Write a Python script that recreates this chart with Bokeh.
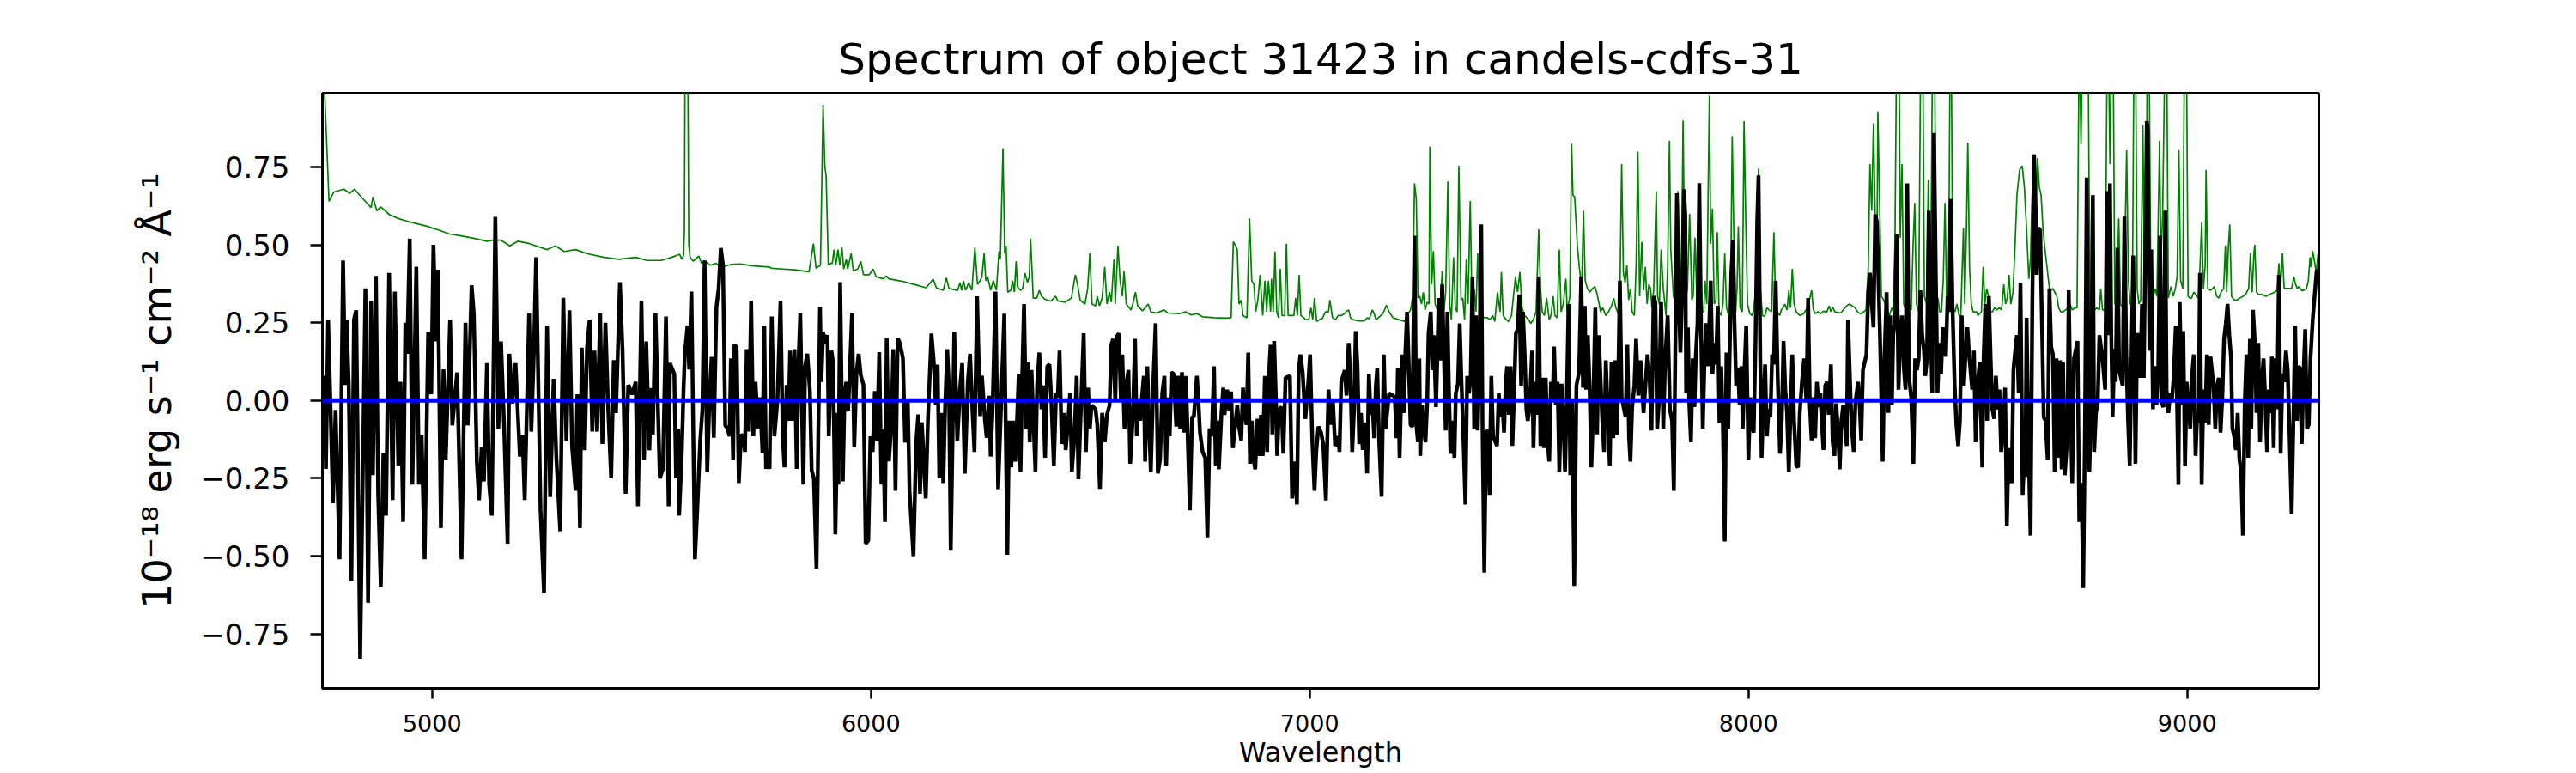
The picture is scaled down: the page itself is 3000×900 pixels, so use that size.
from bokeh.plotting import figure
from bokeh.models import Range1d, FixedTicker, Span
from bokeh.embed import file_html
from bokeh.resources import INLINE

TITLE = "Spectrum of object 31423 in candels-cdfs-31"
X_LABEL = "Wavelength"
Y_LABEL = "10⁻¹⁸ erg s⁻¹ cm⁻² Å⁻¹"
X_TICKS = [5000, 6000, 7000, 8000, 9000]
Y_TICKS = [-0.75, -0.5, -0.25, 0.0, 0.25, 0.5, 0.75]
Y_TICK_LABELS = ["−0.75", "−0.50", "−0.25", "0.00", "0.25", "0.50", "0.75"]
X_LIMITS = (4750, 9300)
Y_LIMITS = (-0.925, 0.9875)
ZERO_LEVEL = 0.0

# object spectrum (wavelength, flux)
OBJ_1 = [(4754,0.08),(4758,-0.22),(4763,0.26),(4769,-0.05),(4774,-0.33),(4780,-0.03),(4789,-0.51),(4797,0.45),(4802,0.05),(4805,0.26),(4810,0.05),(4816,-0.58),(4822,0.26),(4827,0.29),(4836,-0.83),(4848,0.36),(4854,-0.65),(4861,0.32),(4865,-0.24),(4872,0.40),(4877,-0.30),(4883,-0.60),(4889,-0.17),(4895,-0.37),(4902,0.41),(4910,-0.32),(4915,0.35),(4923,-0.21),(4928,0.06),(4934,-0.39),(4939,0.25),(4943,0.15),(4949,0.52),(4955,-0.27),(4964,0.43),(4970,-0.27),(4976,-0.11),(4983,-0.51),(4991,0.22),(4998,0.02),(5003,0.50),(5009,0.19),(5013,0.42),(5020,-0.41),(5026,0.10),(5031,-0.19),(5041,0.26),(5046,-0.08),(5057,0.09),(5067,-0.51),(5076,0.25),(5081,-0.08),(5090,0.37),(5095,0.28),(5102,-0.20),(5107,-0.32),(5113,-0.15),(5118,-0.26),(5125,0.12),(5130,-0.27),(5136,-0.37),(5144,0.59),(5151,-0.09),(5157,0.19),(5164,-0.08),(5172,-0.46),(5176,0.15),(5183,-0.01),(5190,0.12),(5200,-0.18),(5206,-0.11),(5211,-0.32),(5221,0.28),(5226,-0.10),(5232,0.16),(5237,0.46),(5247,-0.35),(5255,-0.62),(5262,0.24),(5269,-0.31),(5277,0.07),(5283,-0.18),(5292,-0.42),(5299,0.33),(5306,-0.13),(5313,0.29),(5319,-0.15),(5327,-0.29),(5331,0.02),(5337,-0.41),(5341,0.17),(5348,-0.16),(5353,0.17),(5359,0.26),(5365,-0.10),(5370,0.16),(5376,-0.10),(5383,0.28),(5388,-0.14),(5395,0.25),(5401,-0.02),(5408,-0.25),(5414,0.13),(5419,-0.04),(5428,0.38),(5434,0.16),(5441,-0.30),(5447,0.05),(5456,0.02),(5464,0.06),(5469,-0.34),(5477,0.32),(5483,-0.19),(5488,0.19),(5495,-0.16),(5500,0.04),(5503,-0.11),(5509,0.28),(5519,-0.25)]
OBJ_2 = [(5526,-0.22),(5533,0.27),(5539,-0.34),(5542,0.12),(5552,0.085),(5556,-0.25),(5561,-0.09),(5563,-0.37),(5569,-0.17),(5573,0.035),(5576,0.15),(5582,0.24),(5586,0.10),(5591,0.35),(5599,-0.51),(5604,-0.36),(5611,-0.13),(5616,-0.03),(5621,0.45),(5627,-0.23),(5632,0.0),(5637,0.14),(5642,-0.12),(5648,0.30),(5653,0.36),(5658,0.49),(5663,0.435),(5668,-0.08),(5673,-0.09),(5678,-0.115),(5681,0.135),(5686,-0.19),(5689,0.18),(5694,0.17),(5699,-0.265),(5704,-0.11),(5709,-0.115),(5713,-0.165),(5717,0.165),(5722,-0.10),(5727,0.32),(5732,-0.115),(5737,0.06),(5743,-0.09),(5747,0.01),(5753,-0.17),(5757,0.24),(5761,-0.22),(5766,-0.16),(5769,-0.22),(5774,0.27),(5780,-0.115),(5787,0.0),(5794,0.32),(5799,-0.115),(5803,-0.215),(5808,0.05),(5812,-0.065),(5816,0.16),(5821,-0.065),(5826,0.165),(5831,-0.22),(5835,0.12),(5839,0.28),(5846,-0.27),(5850,0.11),(5855,0.15),(5861,0.03),(5865,-0.225),(5870,-0.25),(5876,-0.54),(5884,0.30),(5887,0.06),(5891,0.22),(5896,0.185),(5901,0.21),(5904,-0.115),(5910,0.16),(5914,0.12),(5919,-0.43),(5924,-0.04),(5926,-0.27),(5930,0.38),(5936,-0.26),(5940,0.02),(5944,0.06),(5948,-0.035),(5951,0.06),(5957,0.28),(5962,-0.15),(5967,0.085),(5972,0.15),(5977,0.08),(5983,0.05),(5988,-0.46),(5994,-0.45),(5999,-0.115),(6004,-0.165),(6009,0.03),(6014,-0.13),(6019,0.155),(6024,-0.27),(6028,-0.09),(6032,-0.39),(6036,0.20),(6041,-0.195),(6047,-0.07),(6051,0.165),(6056,-0.29),(6061,0.20),(6066,0.185),(6073,0.135),(6078,-0.135),(6084,0.005),(6088,-0.29),(6097,-0.50),(6103,-0.14),(6108,-0.045),(6112,-0.30),(6116,-0.07),(6125,-0.315),(6130,-0.06),(6138,0.215),(6143,0.13),(6148,-0.015),(6152,0.115),(6156,-0.25),(6161,-0.04),(6165,-0.265),(6169,-0.03),(6174,0.165),(6178,0.04),(6182,-0.48),(6190,0.22),(6197,-0.13),(6203,0.035),(6208,0.12),(6214,-0.235),(6221,0.06),(6226,0.15),(6230,0.01),(6236,-0.165),(6242,0.335),(6249,-0.05),(6253,0.08),(6260,-0.065),(6264,-0.12),(6270,0.015),(6273,-0.18),(6277,-0.04),(6284,0.35),(6290,-0.285)]
OBJ_3 = [(6304,0.279),(6311,-0.496),(6315,-0.065),(6320,-0.215),(6324,-0.065),(6329,-0.196),(6333,-0.065),(6337,0.085),(6341,-0.228),(6345,0.085),(6349,0.31),(6354,-0.09),(6358,0.123),(6362,-0.134),(6366,0.098),(6375,-0.228),(6379,0.054),(6384,0.154),(6389,-0.028),(6392,0.048),(6397,-0.184),(6402,0.11),(6407,0.116),(6411,0.01),(6417,-0.209),(6422,0.023),(6426,0.01),(6430,0.16),(6435,-0.14),(6440,-0.04),(6444,-0.159),(6449,-0.078),(6454,0.023),(6458,-0.228),(6464,-0.115),(6469,0.079),(6473,-0.253),(6477,-0.09),(6480,0.023),(6485,0.216),(6490,-0.165),(6495,0.041),(6499,-0.09),(6503,-0.015),(6512,-0.028),(6516,-0.078),(6522,-0.284),(6527,-0.04),(6533,-0.134),(6538,-0.046),(6544,-0.015),(6548,0.179),(6552,0.198),(6557,-0.003),(6560,0.204),(6565,0.216),(6570,-0.003),(6573,0.148),(6578,-0.09),(6583,0.06),(6587,0.098),(6591,-0.203),(6597,-0.053),(6602,0.198),(6606,-0.115),(6610,-0.003),(6614,-0.065),(6617,-0.003),(6622,0.079),(6625,-0.196),(6630,0.11),(6634,-0.078),(6638,-0.228),(6644,0.073),(6649,0.248),(6654,-0.234),(6659,-0.19),(6664,0.023),(6669,0.079),(6673,-0.209),(6677,0.01),(6681,-0.115),(6685,0.091),(6690,0.085),(6696,-0.084),(6700,0.079),(6705,-0.09),(6709,0.091),(6713,-0.103),(6718,0.079),(6727,-0.353),(6732,-0.053),(6736,-0.053),(6743,0.079),(6747,-0.015),(6750,-0.103),(6756,-0.165),(6762,-0.184),(6767,-0.44),(6772,-0.09),(6777,-0.115),(6782,0.11),(6786,-0.209),(6790,-0.065),(6793,-0.221),(6799,-0.04),(6803,0.041),(6806,-0.046),(6812,0.035),(6817,-0.034),(6821,0.029),(6825,-0.153),(6835,-0.015),(6839,-0.084),(6844,-0.128),(6848,0.041),(6852,-0.04),(6856,-0.078),(6860,0.154),(6864,-0.203),(6868,-0.065),(6872,-0.19),(6876,-0.221),(6881,-0.059),(6885,-0.178),(6889,-0.046),(6893,-0.178),(6898,0.079),(6903,-0.165),(6907,0.079),(6911,0.179),(6915,-0.109),(6919,0.191),(6923,0.01),(6926,-0.178),(6930,-0.028),(6936,-0.021),(6940,-0.171),(6945,0.073),(6955,0.079),(6960,-0.315),(6966,-0.196),(6971,-0.334),(6975,0.098),(6979,0.148),(6984,0.091),(6990,-0.059),(6997,0.06),(7001,0.148),(7006,-0.128),(7011,-0.29),(7015,-0.165),(7020,-0.084),(7026,-0.103),(7031,-0.14),(7037,-0.321),(7043,0.035),(7048,-0.078),(7053,-0.003),(7058,-0.146),(7065,-0.115)]
OBJ_4 = [(7068,-0.165),(7072,0.06),(7080,0.098),(7084,0.016),(7089,0.185),(7093,0.066),(7097,-0.165),(7101,-0.034),(7105,0.223),(7109,0.11),(7113,-0.14),(7117,-0.04),(7121,-0.159),(7124,-0.071),(7128,-0.121),(7131,-0.234),(7135,0.085),(7139,-0.046),(7143,-0.003),(7147,-0.121),(7151,0.048),(7154,0.104),(7158,-0.115),(7164,-0.309),(7169,0.148),(7173,-0.09),(7181,0.023),(7190,0.016),(7194,0.01),(7198,-0.121),(7201,0.104),(7205,-0.184),(7211,0.148),(7215,-0.04),(7218,0.148),(7222,0.285),(7226,0.11),(7230,-0.078),(7234,-0.084),(7239,0.529),(7243,-0.078),(7247,-0.134),(7250,0.135),(7252,-0.178),(7256,-0.015),(7260,-0.09),(7264,-0.134),(7268,-0.003),(7271,0.216),(7276,0.285),(7280,0.098),(7283,0.21),(7288,-0.021),(7291,0.135),(7294,0.329),(7298,0.129),(7302,0.373),(7306,0.148),(7310,-0.096),(7314,0.285),(7317,0.06),(7321,-0.171),(7325,-0.065),(7330,-0.184),(7333,0.023),(7338,0.054),(7342,0.248),(7346,0.06),(7350,-0.103),(7355,-0.334),(7359,0.079),(7363,0.023),(7367,0.073),(7371,0.398),(7375,-0.09),(7379,0.273),(7383,-0.096),(7387,0.135),(7391,0.566),(7394,-0.09),(7398,-0.553),(7402,-0.103),(7406,-0.096),(7410,-0.303),(7414,0.079),(7418,-0.115),(7427,-0.146),(7431,0.023),(7435,-0.053),(7439,-0.003),(7443,-0.103),(7447,0.06),(7450,0.11),(7454,-0.046),(7458,0.11),(7462,-0.146),(7466,0.029),(7470,0.216),(7474,0.229),(7478,0.341),(7482,0.048),(7486,0.285),(7490,0.148),(7494,-0.028),(7497,-0.065),(7501,-0.028),(7507,0.16),(7510,-0.153),(7514,0.06),(7518,-0.046),(7522,0.398),(7526,-0.146),(7530,0.073),(7534,-0.153),(7538,0.073),(7542,-0.128),(7546,-0.196),(7550,0.06),(7554,0.004),(7557,0.173),(7561,-0.015),(7565,0.06),(7569,-0.228),(7574,0.054),(7578,-0.053),(7582,-0.228),(7586,-0.003),(7590,0.31),(7594,-0.24),(7598,-0.003),(7603,-0.596),(7608,0.048),(7614,0.091),(7619,0.398),(7623,0.041),(7627,0.304),(7630,0.035),(7634,0.21),(7638,0.041),(7642,-0.215),(7646,-0.04),(7651,0.298),(7655,-0.109),(7659,0.21),(7663,0.066),(7667,-0.065),(7671,-0.165),(7675,0.129),(7684,-0.209),(7688,0.123),(7692,-0.121),(7696,0.129),(7700,-0.109),(7703,0.035),(7707,0.385),(7711,0.01),(7720,-0.053),(7724,0.179),(7728,-0.121),(7731,-0.196),(7735,-0.021),(7740,0.048),(7744,0.198),(7749,0.016),(7754,0.129),(7761,-0.04),(7770,0.148),(7775,0.066),(7779,-0.096),(7784,0.335),(7788,0.316),(7792,-0.09),(7796,-0.003),(7801,0.316),(7806,-0.09),(7810,0.123),(7816,0.273),(7821,-0.028),(7826,-0.065),(7830,-0.29)]
OBJ_5 = [(7837,0.666),(7841,0.335),(7845,0.154),(7849,0.348),(7853,0.679),(7856,0.598),(7858,0.023),(7862,0.235),(7865,-0.003),(7869,-0.134),(7873,0.135),(7877,-0.021),(7880,0.141),(7884,0.248),(7888,0.698),(7892,0.235),(7896,-0.09),(7900,0.135),(7904,0.248),(7908,0.11),(7910,0.21),(7914,0.385),(7918,0.085),(7922,0.185),(7926,0.116),(7930,0.304),(7934,-0.071),(7938,0.11),(7942,-0.09),(7946,-0.453),(7950,0.154),(7954,-0.09),(7957,0.135),(7961,0.41),(7965,0.516),(7968,0.26),(7972,0.048),(7976,0.104),(7980,-0.015),(7984,0.11),(7987,-0.09),(7991,0.098),(7995,0.241),(8000,-0.19),(8004,0.01),(8008,-0.084),(8012,-0.103),(8016,0.179),(8020,0.573),(8023,0.723),(8027,0.135),(8030,-0.184),(8034,-0.015),(8038,0.116),(8042,-0.115),(8046,-0.028),(8050,-0.053),(8054,0.148),(8058,0.116),(8062,0.385),(8067,0.06),(8072,-0.171),(8076,-0.059),(8080,0.191),(8084,0.035),(8088,-0.04),(8092,-0.228),(8096,-0.04),(8100,0.148),(8104,-0.065),(8109,-0.209),(8113,-0.215),(8117,-0.04),(8122,0.06),(8127,0.135),(8132,-0.003),(8136,0.329),(8140,-0.015),(8144,-0.128),(8148,0.01),(8152,-0.121),(8156,0.06),(8160,-0.021),(8164,0.023),(8167,-0.065),(8171,-0.159),(8175,0.048),(8179,0.06),(8183,-0.046),(8188,0.116),(8192,-0.134),(8196,-0.178),(8200,-0.009),(8204,-0.09),(8208,-0.221),(8212,-0.065),(8216,-0.015),(8220,-0.078),(8224,-0.146),(8227,0.26),(8233,-0.003),(8237,-0.115),(8240,-0.165),(8244,-0.003),(8250,0.06),(8254,-0.028),(8257,-0.128),(8261,0.098),(8269,0.148),(8273,0.348),(8277,0.41),(8281,0.316),(8285,0.235),(8289,0.598),(8293,0.573),(8297,0.354),(8300,0.198),(8306,-0.196),(8310,0.135),(8315,0.348),(8319,-0.04),(8323,0.273),(8327,-0.015),(8330,0.21),(8334,0.26),(8338,0.535),(8342,0.035),(8346,0.21),(8350,0.273),(8354,0.11),(8358,0.035),(8362,0.698),(8366,0.073),(8371,0.01),(8376,-0.203),(8380,0.135),(8384,0.098),(8388,0.135),(8392,0.354),(8396,0.21),(8400,0.16),(8403,0.079),(8407,0.135),(8411,0.61),(8415,0.26),(8419,0.023),(8423,0.86),(8427,0.41),(8431,0.023),(8435,0.185),(8439,0.085),(8443,0.235),(8450,0.141),(8454,0.335),(8458,0.285),(8461,0.648),(8465,0.31),(8470,0.048),(8474,-0.078),(8478,-0.146),(8482,-0.065),(8486,0.273),(8491,0.048),(8495,0.148),(8499,0.235),(8503,0.148),(8510,0.035),(8514,0.16),(8518,-0.134),(8523,0.06),(8527,0.123),(8533,-0.215),(8536,0.135),(8540,0.31),(8544,-0.065),(8548,0.335),(8552,0.135),(8556,-0.028),(8560,-0.059),(8564,0.079),(8568,-0.028),(8572,0.035),(8576,-0.165),(8581,-0.09),(8585,0.041),(8589,-0.403),(8593,-0.153),(8596,-0.228),(8600,-0.265),(8604,0.098),(8608,0.16),(8612,0.21)]
OBJ_6 = [(8616,0.023),(8620,0.379),(8625,-0.303),(8629,-0.159),(8631,-0.246),(8634,0.266),(8638,-0.115),(8643,-0.434),(8647,0.31),(8651,0.791),(8655,0.598),(8657,0.404),(8661,0.554),(8665,0.548),(8669,0.248),(8673,-0.053),(8677,-0.065),(8682,-0.19),(8686,0.36),(8690,0.173),(8694,0.148),(8698,-0.228),(8702,0.135),(8706,-0.184),(8710,0.129),(8714,-0.221),(8717,0.123),(8721,-0.24),(8727,-0.115),(8730,0.354),(8734,-0.009),(8738,-0.265),(8742,0.135),(8750,0.191),(8754,-0.39),(8759,-0.265),(8763,-0.603),(8767,-0.09),(8771,0.716),(8775,0.11),(8777,-0.228),(8781,-0.009),(8785,0.66),(8788,-0.165),(8792,-0.04),(8796,-0.009),(8800,0.21),(8807,0.135),(8813,0.035),(8817,0.673),(8820,0.21),(8824,0.698),(8827,0.21),(8830,-0.053),(8834,0.166),(8837,0.06),(8841,0.491),(8845,0.098),(8853,0.048),(8857,0.591),(8861,0.16),(8865,-0.053),(8869,-0.209),(8873,0.135),(8877,0.466),(8882,-0.203),(8886,0.216),(8890,0.198),(8893,0.073),(8897,0.31),(8901,0.073),(8905,0.535),(8908,0.898),(8910,0.873),(8914,0.16),(8918,0.485),(8922,-0.028),(8926,0.11),(8930,-0.015),(8934,0.098),(8938,0.529),(8942,-0.009),(8946,-0.021),(8950,0.61),(8953,0.035),(8957,-0.04),(8961,0.023),(8965,-0.003),(8969,0.073),(8974,0.241),(8980,-0.271),(8983,0.316),(8987,-0.015),(8991,0.223),(8995,-0.209),(8999,0.06),(9007,-0.09),(9011,0.079),(9015,0.148),(9019,-0.178),(9023,-0.04),(9026,-0.071),(9029,0.41),(9033,-0.271),(9037,0.035),(9041,-0.071),(9045,0.148),(9049,-0.078),(9053,0.141),(9060,0.048),(9064,-0.09),(9068,0.048),(9072,0.073),(9076,-0.103),(9080,0.01),(9084,0.198),(9088,0.248),(9092,0.31),(9096,0.21),(9100,0.135),(9103,-0.09),(9107,-0.115),(9111,-0.159),(9115,-0.04),(9119,-0.19),(9123,-0.228),(9127,-0.434),(9131,-0.015),(9135,0.148),(9139,-0.184),(9143,0.198),(9146,-0.09),(9150,0.291),(9154,0.191),(9158,-0.04),(9162,0.185),(9166,-0.134),(9170,0.06),(9174,0.135),(9178,-0.003),(9182,-0.165),(9186,0.035),(9190,-0.04),(9193,0.141),(9197,-0.153),(9201,0.135),(9205,-0.028),(9209,0.404),(9213,-0.171),(9217,0.085),(9221,0.06),(9225,0.16),(9229,0.098),(9233,-0.096),(9238,-0.365),(9242,-0.065),(9246,0.241),(9250,-0.065),(9253,0.11),(9257,0.104),(9261,-0.14),(9265,0.085),(9269,0.229),(9273,-0.09),(9277,-0.078),(9281,0.135),(9286,0.26),(9291,0.348),(9295,0.416),(9298,0.42)]

# sky / noise spectrum (wavelength, flux)
SKY_1 = [(4752,1.10),(4765,0.64),(4776,0.67),(4799,0.679),(4812,0.666),(4823,0.679),(4838,0.655),(4851,0.635),(4861,0.62),(4865,0.654),(4874,0.61),(4883,0.622),(4903,0.597),(4923,0.585),(4936,0.579),(4955,0.572),(4988,0.56),(5014,0.548),(5040,0.535),(5066,0.529),(5092,0.522),(5125,0.512),(5138,0.515),(5157,0.515),(5177,0.497),(5196,0.512),(5222,0.504),(5262,0.485),(5281,0.497),(5301,0.479),(5327,0.485),(5353,0.472),(5392,0.46),(5425,0.454),(5464,0.46),(5490,0.45),(5522,0.45)]
SKY_2 = [(5546,0.46),(5564,0.47),(5569,0.454),(5573,0.466),(5575,0.55),(5577,1.3),(5582,1.3),(5585,0.50),(5588,0.46),(5595,0.448),(5608,0.464),(5614,0.441),(5621,0.448),(5634,0.435),(5647,0.441),(5657,0.429),(5683,0.4375),(5702,0.439),(5728,0.433),(5768,0.429),(5774,0.425),(5800,0.4225),(5826,0.42),(5859,0.414),(5869,0.504),(5875,0.425),(5885,0.435),(5891,0.95),(5895,0.754),(5898,0.72),(5903,0.435),(5908,0.441),(5912,0.441),(5916,0.485),(5920,0.435),(5925,0.485),(5929,0.435),(5934,0.491),(5938,0.4225),(5944,0.454),(5947,0.4225),(5955,0.4725),(5960,0.416),(5970,0.4225),(5977,0.4475),(5983,0.404),(5996,0.404),(6005,0.4225),(6012,0.3975),(6028,0.391),(6035,0.4),(6041,0.391),(6064,0.385),(6074,0.3825),(6100,0.3725),(6126,0.3625),(6142,0.39),(6149,0.3625),(6165,0.354),(6172,0.394),(6178,0.36),(6198,0.354),(6203,0.379),(6207,0.354),(6211,0.385),(6216,0.354),(6223,0.379),(6230,0.354),(6237,0.491),(6243,0.373),(6249,0.385),(6253,0.398),(6258,0.4725),(6262,0.385),(6266,0.398),(6273,0.354),(6279,0.385),(6286,0.354),(6292,0.479)]
SKY_3 = [(6295,0.454),(6301,0.81),(6305,0.4725),(6308,0.4975),(6312,0.348),(6319,0.354),(6323,0.385),(6327,0.348),(6331,0.4475),(6334,0.366),(6341,0.354),(6346,0.36),(6351,0.41),(6357,0.379),(6361,0.398),(6364,0.52),(6370,0.329),(6378,0.329),(6384,0.354),(6389,0.335),(6397,0.325),(6410,0.319),(6417,0.329),(6421,0.335),(6426,0.32),(6443,0.316),(6457,0.329),(6466,0.404),(6471,0.373),(6477,0.323),(6488,0.31),(6494,0.36),(6499,0.4725),(6504,0.31),(6512,0.304),(6516,0.335),(6521,0.304),(6527,0.329),(6533,0.429),(6538,0.31),(6544,0.348),(6548,0.316),(6554,0.454),(6557,0.31),(6563,0.4975),(6568,0.385),(6573,0.335),(6577,0.416),(6582,0.31),(6593,0.291),(6598,0.316),(6603,0.348),(6608,0.304),(6619,0.288),(6625,0.298),(6632,0.31),(6638,0.285),(6651,0.281),(6668,0.291),(6677,0.281),(6703,0.279),(6717,0.285),(6730,0.275),(6743,0.279),(6756,0.269),(6782,0.266),(6808,0.265),(6821,0.266),(6826,0.51),(6831,0.498),(6835,0.485),(6839,0.31),(6844,0.323),(6848,0.273),(6857,0.266),(6863,0.585),(6868,0.385),(6873,0.373),(6877,0.285),(6882,0.323),(6887,0.404),(6893,0.273),(6898,0.385),(6902,0.285),(6906,0.385),(6911,0.285),(6913,0.391),(6917,0.285),(6921,0.479),(6925,0.285),(6929,0.266),(6933,0.423),(6937,0.273),(6943,0.273),(6947,0.504),(6951,0.273),(6964,0.273),(6968,0.329),(6972,0.273),(6976,0.404),(6980,0.273),(6987,0.266),(6990,0.26),(6998,0.26),(7003,0.298),(7007,0.26),(7011,0.329),(7016,0.254),(7023,0.26),(7029,0.264),(7036,0.285),(7043,0.285),(7046,0.323),(7052,0.266),(7059,0.26),(7065,0.273)]
SKY_4 = [(7072,0.273),(7079,0.279),(7085,0.288),(7089,0.291),(7093,0.266),(7098,0.26),(7112,0.256),(7125,0.256),(7131,0.266),(7136,0.2625),(7143,0.291),(7147,0.279),(7151,0.26),(7157,0.266),(7167,0.279),(7175,0.306),(7181,0.285),(7190,0.266),(7203,0.26),(7216,0.254),(7222,0.273),(7230,0.291),(7235,0.335),(7239,0.698),(7243,0.648),(7247,0.329),(7251,0.335),(7255,0.31),(7259,0.348),(7263,0.291),(7268,0.316),(7272,0.31),(7274,0.816),(7278,0.373),(7282,0.48),(7286,0.31),(7291,0.291),(7297,0.285),(7302,0.416),(7306,0.291),(7310,0.348),(7315,0.704),(7319,0.31),(7323,0.26),(7328,0.46),(7332,0.298),(7336,0.285),(7340,0.754),(7345,0.323),(7349,0.329),(7353,0.26),(7357,0.454),(7361,0.31),(7366,0.641),(7370,0.298),(7375,0.36),(7379,0.285),(7383,0.4725),(7387,0.285),(7392,0.273),(7398,0.266),(7405,0.266),(7411,0.26),(7417,0.273),(7422,0.254),(7428,0.3475),(7434,0.285),(7437,0.4125),(7441,0.273),(7448,0.26),(7453,0.254),(7460,0.273),(7464,0.329),(7469,0.3975),(7474,0.348),(7479,0.4125),(7484,0.298),(7490,0.273),(7499,0.26),(7504,0.248),(7510,0.26),(7516,0.285),(7522,0.55),(7526,0.36),(7530,0.285),(7535,0.273),(7540,0.329),(7546,0.26),(7550,0.273),(7555,0.335),(7559,0.273),(7564,0.266),(7569,0.485),(7573,0.285),(7578,0.31),(7584,0.391),(7587,0.285),(7593,0.335),(7597,0.825),(7600,0.66),(7604,0.654),(7610,0.498),(7615,0.423),(7620,0.36),(7624,0.61),(7628,0.385),(7633,0.36),(7638,0.348),(7645,0.36),(7650,0.366),(7654,0.348),(7659,0.316),(7663,0.285),(7668,0.298),(7675,0.273),(7681,0.285),(7688,0.304),(7693,0.329),(7698,0.298),(7703,0.279),(7707,0.335),(7711,0.76),(7715,0.41),(7719,0.379),(7723,0.435),(7727,0.323),(7731,0.36),(7735,0.285),(7740,0.273),(7744,0.435),(7748,0.80),(7752,0.335),(7757,0.51),(7761,0.354),(7765,0.429),(7769,0.31),(7773,0.373),(7777,0.36),(7780,0.298),(7784,0.354),(7790,0.673),(7793,0.335),(7797,0.31),(7801,0.485),(7806,0.36),(7812,0.273),(7816,0.435),(7820,0.835),(7823,0.485),(7829,0.335),(7834,0.31)]
SKY_5 = [(7839,0.673),(7841,0.548),(7847,0.335),(7851,0.90),(7856,0.31),(7861,0.36),(7866,0.60),(7871,0.323),(7874,0.335),(7878,0.523),(7882,0.348),(7887,0.285),(7892,0.285),(7898,0.285),(7901,0.385),(7905,0.31),(7911,0.98),(7914,0.504),(7918,0.616),(7922,0.31),(7926,0.323),(7929,0.541),(7933,0.285),(7938,0.273),(7942,0.31),(7946,0.4725),(7950,0.298),(7955,0.273),(7959,0.285),(7963,0.85),(7967,0.51),(7971,0.285),(7974,0.36),(7977,0.56),(7981,0.298),(7986,0.285),(7990,0.898),(7994,0.573),(7998,0.31),(8003,0.279),(8008,0.273),(8012,0.291),(8017,0.36),(8023,0.745),(8027,0.36),(8032,0.273),(8037,0.27),(8042,0.298),(8047,0.291),(8053,0.285),(8058,0.541),(8062,0.31),(8066,0.285),(8071,0.273),(8075,0.291),(8079,0.298),(8083,0.31),(8088,0.291),(8092,0.354),(8096,0.298),(8100,0.423),(8104,0.31),(8109,0.285),(8117,0.273),(8126,0.279),(8134,0.298),(8139,0.323),(8144,0.354),(8148,0.291),(8153,0.279),(8158,0.285),(8165,0.279),(8171,0.2875),(8178,0.2825),(8184,0.304),(8188,0.285),(8192,0.30),(8197,0.285),(8210,0.281),(8224,0.304),(8230,0.31),(8237,0.304),(8243,0.298),(8250,0.2825),(8256,0.279),(8263,0.285),(8268,0.291),(8273,0.423),(8277,0.76),(8281,0.61),(8285,0.891),(8289,0.573),(8293,0.4875),(8295,0.929),(8299,0.635),(8303,0.335),(8308,0.323),(8315,0.298),(8321,0.273),(8327,0.298),(8330,0.285),(8334,0.51),(8338,1.2),(8343,1.2),(8346,0.523),(8350,0.76),(8354,0.31),(8358,0.291),(8362,0.285),(8367,0.31),(8371,0.291),(8375,0.485),(8379,0.635),(8383,0.31),(8388,0.285),(8393,1.2),(8397,1.2),(8401,0.335),(8406,0.31),(8410,0.71),(8413,0.31),(8416,0.485),(8420,1.2),(8424,1.2),(8428,0.31),(8432,0.329),(8436,0.285),(8440,0.285),(8444,0.385),(8448,0.635),(8452,0.298),(8456,0.335),(8460,1.2),(8462,1.2),(8466,0.298),(8471,0.285),(8475,0.31),(8480,0.273),(8484,0.273),(8490,0.554),(8493,0.31),(8497,0.56),(8500,0.829),(8504,0.423),(8508,0.31),(8512,0.285),(8520,0.285),(8523,0.273),(8527,0.279),(8531,0.285),(8535,0.429),(8539,0.31),(8543,0.36),(8547,0.335),(8551,0.285),(8556,0.285),(8561,0.298),(8566,0.291),(8572,0.298),(8577,0.291),(8582,0.373),(8586,0.31),(8590,0.329),(8594,0.404),(8598,0.31),(8603,0.348),(8608,0.51),(8612,0.66)]
SKY_6 = [(8618,0.741),(8624,0.754),(8629,0.685),(8634,0.548),(8639,0.391),(8643,0.46),(8646,0.635),(8650,0.791),(8654,0.56),(8659,0.779),(8663,0.685),(8667,0.66),(8671,0.56),(8674,0.51),(8678,0.46),(8682,0.41),(8686,0.36),(8690,0.354),(8694,0.36),(8698,0.348),(8703,0.335),(8707,0.298),(8712,0.285),(8717,0.285),(8723,0.291),(8728,0.298),(8733,0.31),(8738,0.291),(8744,0.298),(8749,0.298),(8754,1.2),(8758,0.823),(8762,1.2),(8774,1.2),(8776,0.76),(8779,0.298),(8784,0.291),(8789,0.291),(8794,0.298),(8800,0.291),(8803,0.36),(8807,0.291),(8813,0.291),(8818,1.2),(8820,1.2),(8824,0.76),(8828,1.2),(8831,1.2),(8835,0.31),(8839,0.31),(8844,0.585),(8848,0.31),(8853,0.298),(8858,0.498),(8862,0.804),(8866,0.385),(8870,0.31),(8875,0.31),(8879,1.2),(8882,1.2),(8886,0.36),(8890,0.31),(8894,0.323),(8899,0.885),(8903,0.31),(8907,0.51),(8909,1.2),(8913,1.2),(8917,0.36),(8922,0.329),(8927,0.36),(8931,0.335),(8937,0.835),(8940,0.448),(8944,0.598),(8950,1.2),(8953,1.2),(8957,0.329),(8963,0.366),(8968,0.335),(8973,0.36),(8977,0.398),(8981,0.804),(8985,0.385),(8990,0.36),(8994,1.2),(8998,1.2),(9002,0.335),(9006,0.329),(9010,0.329),(9015,0.348),(9020,0.341),(9025,0.329),(9029,0.423),(9033,0.573),(9037,0.36),(9041,0.435),(9043,0.741),(9047,0.36),(9053,0.354),(9058,0.36),(9062,0.366),(9067,0.335),(9072,0.329),(9077,0.348),(9083,0.36),(9087,0.498),(9090,0.348),(9094,0.498),(9097,0.566),(9101,0.335),(9107,0.323),(9114,0.323),(9120,0.329),(9127,0.335),(9133,0.341),(9140,0.36),(9144,0.4725),(9148,0.348),(9152,0.4725),(9154,0.50),(9158,0.348),(9163,0.341),(9170,0.341),(9179,0.335),(9188,0.341),(9199,0.348),(9205,0.354),(9209,0.441),(9213,0.373),(9217,0.4725),(9221,0.36),(9226,0.36),(9233,0.36),(9238,0.36),(9243,0.398),(9247,0.373),(9251,0.36),(9255,0.366),(9260,0.354),(9265,0.354),(9272,0.36),(9276,0.385),(9280,0.46),(9282,0.429),(9286,0.48),(9290,0.448),(9294,0.41),(9298,0.47)]

obj = OBJ_1 + OBJ_2 + OBJ_3 + OBJ_4 + OBJ_5 + OBJ_6
sky = SKY_1 + SKY_2 + SKY_3 + SKY_4 + SKY_5 + SKY_6
obj_wave = [w for w, f in obj]
obj_flux = [f for w, f in obj]
sky_wave = [w for w, f in sky]
sky_flux = [f for w, f in sky]

FONT = "DejaVu Sans"

p = figure(width=2984, height=900, output_backend="svg", toolbar_location=None,
           x_range=Range1d(*X_LIMITS), y_range=Range1d(*Y_LIMITS),
           min_border_left=375, min_border_right=284,
           min_border_top=108, min_border_bottom=99,
           title=TITLE, x_axis_label=X_LABEL, y_axis_label=Y_LABEL)

p.line(sky_wave, sky_flux, line_color="green", line_width=1.7)
p.line(obj_wave, obj_flux, line_color="black", line_width=4.5)
p.add_layout(Span(location=ZERO_LEVEL, dimension="width", line_color="blue", line_width=5))

p.title.text_font = FONT
p.title.text_font_size = "50px"
p.title.text_font_style = "normal"
p.title.align = "center"
p.title.text_color = "black"
p.title.standoff = 22

p.xgrid.grid_line_color = None
p.ygrid.grid_line_color = None
p.outline_line_color = "black"
p.outline_line_width = 3
p.outline_line_alpha = 1.0

p.xaxis.ticker = FixedTicker(ticks=X_TICKS)
p.yaxis.ticker = FixedTicker(ticks=Y_TICKS)
p.yaxis.major_label_overrides = dict(zip(Y_TICKS, Y_TICK_LABELS))

for ax in (p.xaxis[0], p.yaxis[0]):
    ax.axis_line_width = 3
    ax.axis_line_color = "black"
    ax.major_tick_in = 0
    ax.major_tick_line_width = 2.5
    ax.major_tick_line_color = "black"
    ax.minor_tick_line_color = None
    ax.major_label_text_font = FONT
    ax.major_label_text_color = "black"
    ax.axis_label_text_font = FONT
    ax.axis_label_text_font_style = "normal"
    ax.axis_label_text_color = "black"

p.xaxis.major_tick_out = 12
p.yaxis.major_tick_out = 14
p.xaxis.major_label_text_font_size = "27px"
p.yaxis.major_label_text_font_size = "34px"
p.xaxis.axis_label_text_font_size = "32px"
p.yaxis.axis_label_text_font_size = "46px"
p.xaxis.major_label_standoff = 18
p.yaxis.major_label_standoff = 24
p.xaxis.axis_label_standoff = 2
p.yaxis.axis_label_standoff = 20

open("out.html", "w").write(file_html(p, INLINE))
